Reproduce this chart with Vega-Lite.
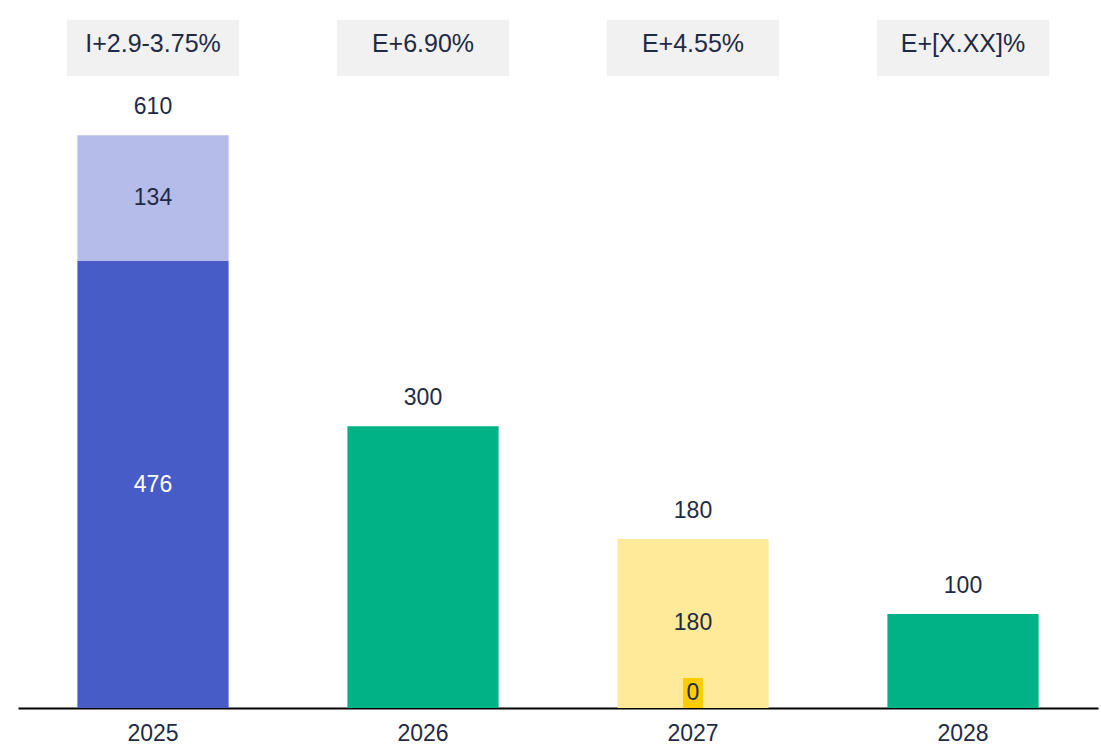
{
  "$schema": "https://vega.github.io/schema/vega-lite/v6.json",
  "width": 1080,
  "height": 708,
  "autosize": {"type": "none"},
  "padding": {"left": 18, "top": 0, "right": 3, "bottom": 37},
  "background": "white",
  "config": {
    "view": {"stroke": null},
    "font": "Liberation Sans",
    "axisX": {"domainColor": "#000000", "domainWidth": 2, "ticks": false, "labelAngle": 0, "labelFontSize": 23, "labelColor": "#1f2a44", "labelPadding": 14}
  },
  "datasets": {
    "segments": [
      {"year": "2025", "seg": "base", "start": 0, "end": 476, "label": "476", "mid": 238},
      {"year": "2025", "seg": "extra", "start": 476, "end": 610, "label": "134", "mid": 543},
      {"year": "2026", "seg": "green", "start": 0, "end": 300, "label": "", "mid": 150},
      {"year": "2027", "seg": "yellow", "start": 0, "end": 180, "label": "180", "mid": 90},
      {"year": "2028", "seg": "green", "start": 0, "end": 100, "label": "", "mid": 50}
    ],
    "totals": [
      {"year": "2025", "total": 610},
      {"year": "2026", "total": 300},
      {"year": "2027", "total": 180},
      {"year": "2028", "total": 100}
    ],
    "headers": [
      {"year": "2025", "text": "I+2.9-3.75%", "lo": 673, "hi": 733},
      {"year": "2026", "text": "E+6.90%", "lo": 673, "hi": 733},
      {"year": "2027", "text": "E+4.55%", "lo": 673, "hi": 733},
      {"year": "2028", "text": "E+[X.XX]%", "lo": 673, "hi": 733}
    ],
    "zero": [
      {"year": "2027", "value": 0, "top": 32, "label": "0"}
    ]
  },
  "encoding": {
    "x": {
      "field": "year",
      "type": "nominal",
      "scale": {"domain": ["2025", "2026", "2027", "2028"], "paddingInner": 0.44, "paddingOuter": 0.22},
      "axis": {"title": null}
    }
  },
  "layer": [
    {
      "data": {"name": "headers"},
      "mark": {"type": "bar", "width": {"band": 1.14}, "color": "#f1f1f1"},
      "encoding": {
        "y": {"field": "lo", "type": "quantitative", "scale": {"domain": [0, 754], "nice": false, "zero": true}, "axis": null},
        "y2": {"field": "hi"}
      }
    },
    {
      "data": {"name": "headers"},
      "mark": {"type": "text", "fontSize": 25, "color": "#1f2a44", "baseline": "middle"},
      "encoding": {
        "y": {"datum": 707, "type": "quantitative"},
        "text": {"field": "text"}
      }
    },
    {
      "data": {"name": "segments"},
      "mark": {"type": "bar", "width": {"band": 1}},
      "encoding": {
        "y": {"field": "start", "type": "quantitative"},
        "y2": {"field": "end"},
        "color": {
          "field": "seg",
          "type": "nominal",
          "scale": {"domain": ["base", "extra", "green", "yellow"], "range": ["#475cc6", "#b6bcea", "#00b386", "#feea98"]},
          "legend": null
        }
      }
    },
    {
      "data": {"name": "segments"},
      "mark": {"type": "text", "fontSize": 23, "baseline": "middle"},
      "encoding": {
        "y": {"field": "mid", "type": "quantitative"},
        "text": {"field": "label"},
        "color": {
          "condition": {"test": "datum.seg === 'base'", "value": "#ffffff"},
          "value": "#1f2a44"
        }
      }
    },
    {
      "data": {"name": "zero"},
      "mark": {"type": "bar", "width": 20, "color": "#ffcc00"},
      "encoding": {
        "y": {"field": "value", "type": "quantitative"},
        "y2": {"field": "top"}
      }
    },
    {
      "data": {"name": "zero"},
      "mark": {"type": "text", "fontSize": 23, "color": "#1f2a44", "baseline": "middle", "dy": -15},
      "encoding": {
        "y": {"field": "value", "type": "quantitative"},
        "text": {"field": "label"}
      }
    },
    {
      "data": {"name": "totals"},
      "mark": {"type": "text", "fontSize": 23, "color": "#1f2a44", "baseline": "middle", "dy": -28},
      "encoding": {
        "y": {"field": "total", "type": "quantitative"},
        "text": {"field": "total", "type": "quantitative"}
      }
    }
  ]
}
